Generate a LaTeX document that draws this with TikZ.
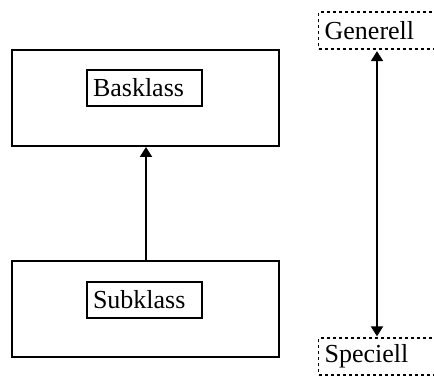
\documentclass[tikz,border=0pt]{standalone}
\usepackage{fontspec}
\setmainfont{Liberation Serif}
\usetikzlibrary{arrows.meta,calc}
\tikzset{
  label font/.style={font=\fontsize{26}{30}\selectfont},
  outerbox/.style={draw, line width=2pt, minimum width=267pt, minimum height=96pt, inner sep=0pt},
  classbox/.style={draw, line width=1.6pt, label font, text width=103pt, align=left,
    inner xsep=6pt, inner ysep=0pt, minimum height=36pt},
  levelbox/.style={draw, dash pattern=on 3pt off 3pt, line width=1.3pt, label font,
    text width=140pt, align=left, inner xsep=6pt, inner ysep=0pt, minimum height=37pt, anchor=west},
  conn/.style={line width=2pt, -{Triangle[width=12pt,length=10pt]}},
  biconn/.style={line width=2pt, {Triangle[width=12pt,length=10pt]}-{Triangle[width=12pt,length=10pt]}},
}
\begin{document}
\begin{tikzpicture}[x=1pt,y=-1pt]
  \clip (0,0) rectangle (434,377);
  \fill[white] (0,0) rectangle (434,377);

  % class hierarchy
  \node[outerbox] (base) at (145.5,98) {};
  \node[classbox] (basename) at (144.5,88) {Basklass};
  \node[outerbox] (sub) at (145.5,309) {};
  \node[classbox] (subname) at (144.5,300) {Subklass};
  \draw[conn] ([xshift=0.5pt]sub.north) -- ([xshift=0.5pt]base.south);

  % generality scale
  \node[levelbox] (gen) at (318,30.5) {Generell};
  \node[levelbox] (spc) at (318,356.5) {Speciell};
  \draw[biconn] ([xshift=59pt,yshift=-1.5pt]gen.south west) -- ([xshift=59pt,yshift=1pt]spc.north west);
\end{tikzpicture}
\end{document}
